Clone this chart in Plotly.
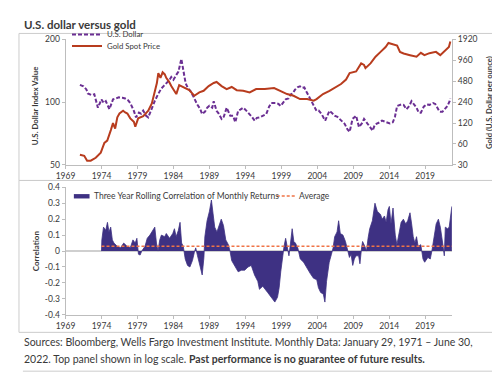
import plotly.graph_objects as go

# ---------------- data ----------------
usd_year = [1971.0, 1971.5, 1971.9, 1972.1, 1972.6, 1973.0, 1973.5, 1974.0, 1974.3, 1974.6,
            1975.1, 1975.6, 1976.0, 1976.4, 1976.9, 1977.3, 1977.7, 1978.0, 1978.5, 1978.8,
            1979.2, 1979.5, 1979.8, 1980.2, 1980.5, 1980.8, 1981.1, 1981.4, 1981.8, 1982.3,
            1982.7, 1983.0, 1983.4, 1983.7, 1984.0, 1984.4, 1984.7, 1985.1, 1985.4, 1985.7,
            1986.0, 1986.4, 1986.8, 1987.3, 1987.7, 1988.0, 1988.4, 1988.7, 1989.0, 1989.4,
            1989.6, 1990.0, 1990.3, 1990.7, 1991.0, 1991.4, 1991.9, 1992.3, 1992.6, 1993.0,
            1993.3, 1993.7, 1994.0, 1994.4, 1994.9, 1995.3, 1995.6, 1996.0, 1996.5, 1996.9,
            1997.3, 1997.6, 1998.2, 1998.6, 1998.9, 1999.3, 1999.6, 2000.0, 2000.3, 2000.6,
            2000.9, 2001.3, 2001.6, 2001.9, 2002.2, 2002.5, 2002.8, 2003.1, 2003.5, 2003.9,
            2004.2, 2004.6, 2005.1, 2005.7, 2006.0, 2006.4, 2006.8, 2007.1, 2007.5, 2007.8,
            2008.2, 2008.5, 2008.9, 2009.2, 2009.4, 2009.8, 2010.2, 2010.5, 2011.0, 2011.4,
            2011.7, 2012.0, 2012.3, 2012.7, 2013.0, 2013.7, 2014.1, 2014.5, 2014.8, 2015.1,
            2015.7, 2016.0, 2016.4, 2016.8, 2017.1, 2017.5, 2017.8, 2018.1, 2018.4, 2018.8,
            2019.2, 2019.6, 2020.1, 2020.4, 2020.7, 2021.0, 2021.4, 2021.7, 2022.1, 2022.4,
            2022.5]
usd_value = [121, 119, 115, 110, 108, 109, 94, 103, 99, 101,
             92.4, 103, 104, 105.5, 105, 104, 102, 99, 90.8, 84.5,
             89, 88, 91, 86, 84.5, 90, 94, 101, 108, 116,
             120, 123, 127, 132, 128, 135, 140, 161, 140, 123,
             117, 112.5, 106, 97.5, 93, 87.6, 90, 94, 96, 94,
             101, 90.8, 88, 83, 85, 94, 86, 86, 80, 90.8,
             92, 94, 92, 89, 85, 81.5, 84, 84.5, 86, 87.6,
             95, 99, 99, 98, 95.8, 100, 103, 104, 108.6, 110,
             114.6, 118, 119, 117, 117.5, 112, 106.7, 103, 95.8, 90.8,
             91, 87.6, 81.5, 90.8, 89, 86, 85, 83, 81, 78.7,
             74, 72, 83, 85, 86, 75.8, 79, 83, 78.7, 75,
             73, 78, 78.7, 80, 81.5, 80, 79, 80, 85, 95.8,
             97.5, 97, 92.4, 96, 101, 97, 94, 89, 89, 95,
             97.5, 97, 99, 98, 94, 90, 89.8, 92, 95.8, 101,
             104]

gold_year = [1971.0, 1971.6, 1972.0, 1972.5, 1973.2, 1973.9, 1974.4, 1974.8, 1975.3, 1975.6,
             1975.9, 1976.2, 1976.5, 1977.0, 1977.3, 1977.6, 1978.0, 1978.5, 1978.7, 1979.1,
             1979.8, 1980.5, 1981.0, 1981.4, 1981.7, 1981.9, 1982.2, 1982.5, 1982.8, 1983.0,
             1983.4, 1983.7, 1984.1, 1984.4, 1984.8, 1985.5, 1986.2, 1986.9, 1987.6, 1988.2,
             1988.9, 1989.6, 1990.0, 1990.7, 1991.4, 1992.1, 1992.8, 1993.7, 1994.6, 1995.5,
             1996.7, 1998.0, 1998.9, 1999.8, 2000.7, 2001.6, 2002.6, 2003.5, 2003.9, 2004.8,
             2005.7, 2006.7, 2007.3, 2008.0, 2008.5, 2009.4, 2010.1, 2010.5, 2010.7, 2011.4,
             2012.1, 2012.8, 2013.5, 2013.9, 2014.6, 2015.1, 2015.5, 2016.0, 2016.9, 2017.8,
             2018.4, 2018.9, 2019.6, 2020.5, 2021.1, 2021.8, 2022.3, 2022.5]
gold_value = [42, 40.5, 34.5, 34.5, 38, 45, 62, 67, 95, 120,
              100, 145, 165, 180, 170, 164, 140, 125, 106, 140,
              150, 180, 230, 330, 450, 627, 535, 642, 600, 535,
              470, 408, 350, 313, 420, 386, 356, 296, 331, 349,
              408, 452, 467, 408, 369, 396, 356, 349, 331, 369,
              369, 381, 349, 313, 296, 265, 265, 251, 265, 313,
              349, 408, 436, 507, 627, 661, 863, 820, 739, 863,
              1078, 1265, 1485, 1700, 1600, 1560, 1265, 1200, 1135, 1078,
              1227, 1135, 1212, 1265, 1135, 1334, 1485, 1790]

corr_year = [1974.0, 1974.05, 1974.28, 1974.59, 1974.83, 1975.04, 1975.28, 1975.51, 1975.73, 1976.19,
             1976.64, 1977.09, 1977.55, 1978.0, 1978.37, 1978.69, 1978.92, 1979.14, 1979.37, 1979.6,
             1980.05, 1980.36, 1980.73, 1981.18, 1981.41, 1981.64, 1981.86, 1982.1, 1982.33, 1982.78,
             1983.01, 1983.46, 1983.91, 1984.14, 1984.38, 1984.69, 1984.92, 1985.14, 1985.37, 1985.64,
             1985.96, 1986.29, 1986.64, 1986.9, 1987.1, 1987.35, 1987.8, 1988.0, 1988.24, 1988.37,
             1988.68, 1989.01, 1989.28, 1989.46, 1989.74, 1990.05, 1990.38, 1990.65, 1990.96, 1991.28,
             1991.64, 1991.87, 1992.1, 1992.55, 1993.0, 1993.46, 1993.91, 1994.37, 1994.82, 1995.28,
             1995.73, 1995.96, 1996.42, 1997.1, 1997.78, 1998.1, 1998.47, 1998.7, 1998.92, 1999.15,
             1999.38, 1999.6, 1999.83, 2000.06, 2000.28, 2000.51, 2000.74, 2000.96, 2001.29, 2001.64,
             2002.1, 2002.56, 2003.01, 2003.47, 2003.93, 2004.16, 2004.47, 2004.84, 2005.06, 2005.29,
             2005.66, 2005.97, 2006.2, 2006.42, 2006.75, 2006.97, 2007.2, 2007.57, 2007.92, 2008.25,
             2008.47, 2008.7, 2008.93, 2009.15, 2009.38, 2009.75, 2009.93, 2010.16, 2010.3, 2010.61,
             2010.84, 2011.06, 2011.29, 2011.66, 2012.02, 2012.34, 2012.79, 2013.02, 2013.34, 2013.57,
             2013.84, 2014.02, 2014.25, 2014.53, 2014.84, 2015.07, 2015.39, 2015.66, 2015.97, 2016.3,
             2016.57, 2016.89, 2017.12, 2017.34, 2017.57, 2017.8, 2018.02, 2018.39, 2018.7, 2018.93,
             2019.38, 2019.71, 2019.93, 2020.2, 2020.53, 2020.84, 2021.11, 2021.43, 2021.66, 2021.8,
             2022.11, 2022.34, 2022.57, 2022.71]
corr_value = [0.0, 0.07, 0.15, 0.13, 0.18, 0.12, 0.15, 0.07, 0.05, 0.03,
              0.02, 0.05, 0.03, 0.02, 0.07, 0.05, 0.08, -0.02, -0.025, 0.0,
              0.03, 0.08, 0.10, 0.13, 0.15, 0.05, 0.0, 0.07, 0.10, 0.09,
              0.11, 0.08, 0.11, 0.14, 0.09, 0.13, 0.18, 0.05, 0.03, -0.05,
              -0.09, -0.10, -0.06, -0.01, 0.02, -0.03, -0.11, -0.15, -0.04, 0.09,
              0.19, 0.25, 0.32, 0.25, 0.15, 0.12, 0.17, 0.20, 0.16, 0.07,
              0.04, 0.0, -0.06, -0.10, -0.13, -0.12, -0.12, -0.10, -0.09, -0.15,
              -0.19, -0.24, -0.22, -0.26, -0.30, -0.32, -0.29, -0.23, -0.13, -0.04,
              0.03, 0.08, 0.02, -0.03, 0.05, 0.14, 0.06, 0.05, 0.02, -0.05,
              -0.07, -0.11, -0.14, -0.17, -0.18, -0.23, -0.26, -0.27, -0.32, -0.19,
              -0.07, -0.02, 0.02, 0.09, 0.12, 0.19, 0.11, 0.10, 0.06, 0.0,
              -0.04, -0.02, -0.09, -0.05, -0.03, -0.03, -0.08, 0.02, 0.06, 0.03,
              0.0, 0.08, 0.14, 0.19, 0.30, 0.25, 0.23, 0.20, 0.22, 0.18,
              0.26, 0.28, 0.17, 0.27, 0.10, 0.04, 0.11, 0.18, 0.20, 0.17,
              0.19, 0.24, 0.17, 0.09, 0.05, 0.09, 0.03, 0.04, -0.05, -0.07,
              -0.04, -0.05, 0.0, 0.09, 0.17, 0.20, 0.15, 0.05, -0.03, 0.15,
              0.14, 0.15, 0.26, 0.28]
corr_average = 0.03

year_ticks = [1969, 1974, 1979, 1984, 1989, 1994, 1999, 2004, 2009, 2014, 2019]
usd_ticks = [50, 100, 200]
gold_ticks = [30, 60, 120, 240, 480, 960, 1920]
corr_ticks = [-0.4, -0.3, -0.2, -0.1, 0, 0.1, 0.2, 0.3, 0.4]
corr_ticktext = ["-0.4", "-0.3", "-0.2", "-0.1", "0", "0.1", "0.2", "0.3", "0.4"]

# ---------------- styling / layout ----------------
W, H = 500, 379
def px(x):
    return x / W
def py(y):
    return 1 - y / H

PURPLE = "#6B2F93"
RED = "#B83C1E"
INDIGO = "#3E3183"
ORANGE = "#F07446"
AXIS = "#BDBDBD"
TXT = "#3a3a3a"
FONT = "Lato"

fig = go.Figure()

fig.add_trace(go.Scatter(x=usd_year, y=usd_value, mode="lines", name="U.S. Dollar",
                         line=dict(color=PURPLE, width=2, dash="4px,2px"),
                         xaxis="x", yaxis="y", legend="legend"))
fig.add_trace(go.Scatter(x=gold_year, y=gold_value, mode="lines", name="Gold Spot Price",
                         line=dict(color=RED, width=2),
                         xaxis="x", yaxis="y2", legend="legend2"))
fig.add_trace(go.Scatter(x=corr_year, y=corr_value, mode="lines", fill="tozeroy",
                         name="Three Year Rolling Correlation of Monthly Returns",
                         line=dict(color=INDIGO, width=0.8), fillcolor=INDIGO,
                         xaxis="x2", yaxis="y3", showlegend=False))
fig.add_trace(go.Scatter(x=[corr_year[0], corr_year[-1]], y=[corr_average, corr_average],
                         mode="lines", name="Average",
                         line=dict(color=ORANGE, width=1.6, dash="3px,2px"),
                         xaxis="x2", yaxis="y3", showlegend=False))

xdom = [px(48.5), px(443)]
tickfont = dict(family=FONT, size=8.5, color=TXT)
common_x = dict(range=[1969, 2022.75], tickvals=year_ticks, ticks="outside", ticklen=3,
                tickcolor=AXIS, showline=True, linecolor=AXIS, linewidth=1,
                showgrid=False, zeroline=False, tickfont=tickfont, domain=xdom)

legend_font = dict(family=FONT, size=7.8, color=TXT)
def leg(x, y):
    return dict(x=px(x), y=py(y), xanchor="left", yanchor="middle", bgcolor="rgba(0,0,0,0)",
                font=legend_font, itemwidth=30, tracegroupgap=0)

fig.update_layout(
    width=W, height=H, margin=dict(l=0, r=0, t=0, b=0),
    paper_bgcolor="white", plot_bgcolor="white", showlegend=True,
    xaxis=dict(**common_x, anchor="y"),
    yaxis=dict(type="log", range=[1.69897, 2.30103], tickvals=usd_ticks,
               domain=[py(156), py(27)], anchor="x", ticks="outside", ticklen=3,
               tickcolor=AXIS, showline=True, linecolor=AXIS, showgrid=False,
               zeroline=False, tickfont=tickfont),
    yaxis2=dict(type="log", range=[1.4771, 3.2833], tickvals=gold_ticks, overlaying="y",
                side="right", anchor="x", ticks="outside", ticklen=3, tickcolor=AXIS,
                showline=True, linecolor=AXIS, showgrid=False, zeroline=False,
                tickfont=tickfont),
    xaxis2=dict(**common_x, anchor="y3"),
    yaxis3=dict(range=[-0.4, 0.4], tickvals=corr_ticks, ticktext=corr_ticktext,
                domain=[py(310), py(179)], anchor="x2", ticks="outside", ticklen=3,
                tickcolor=AXIS, showline=True, linecolor=AXIS, showgrid=False,
                zeroline=True, zerolinecolor="#CFCFCF", zerolinewidth=2, tickfont=tickfont),
    legend=leg(50, 22),
    legend2=leg(50, 34),
)

# panel frames and footer rule
shape_style = dict(type="rect", xref="paper", yref="paper", line=dict(color="#CCCCCC", width=1),
                   fillcolor="rgba(0,0,0,0)", layer="below")
fig.add_shape(x0=px(1), x1=px(488), y0=py(172), y1=py(21), **shape_style)
fig.add_shape(x0=px(1), x1=px(488), y0=py(328), y1=py(172), **shape_style)
fig.add_shape(type="line", xref="paper", yref="paper", x0=px(5), x1=px(489), y0=py(368), y1=py(368),
              line=dict(color="#DDDDDD", width=1.5))

def note(text, x, y, size, angle=0, bold=False, xanchor="left"):
    fig.add_annotation(text=("<b>%s</b>" % text) if bold else text, x=px(x), y=py(y),
                       xref="paper", yref="paper", showarrow=False, textangle=angle,
                       xanchor=xanchor, yanchor="middle",
                       font=dict(family=FONT, size=size, color=TXT))

# key for the lower panel (swatches + labels)
fig.add_shape(type="rect", xref="paper", yref="paper", x0=px(57), x1=px(73), y0=py(190.5), y1=py(186),
              fillcolor=INDIGO, line=dict(width=0))
fig.add_shape(type="line", xref="paper", yref="paper", x0=px(264), x1=px(283), y0=py(188), y1=py(188),
              line=dict(color=ORANGE, width=1.6, dash="3px,2px"))
note("Three Year Rolling Correlation of Monthly Returns", 75.5, 188, 8.5)
note("Average", 284.5, 188, 8.5)

note("U.S. dollar versus gold", 4, 12, 11.5, bold=True)
note("U.S. Dollar Index Value", 18, 95, 7.8, angle=-90, bold=True, xanchor="center")
note("Gold (U.S. Dollar per ounce)", 480, 92, 7.6, angle=-90, bold=True, xanchor="center")
note("Correlation", 18, 244, 8, angle=-90, bold=True, xanchor="center")
note("Sources: Bloomberg, Wells Fargo Investment Institute. Monthly Data: January 29, 1971 \u2013 June 30,",
     4, 338, 10.5)
note("2022. Top panel shown in log scale. <b>Past performance is no guarantee of future results.</b>",
     4, 355, 10.5)

fig.write_html("out.html")
